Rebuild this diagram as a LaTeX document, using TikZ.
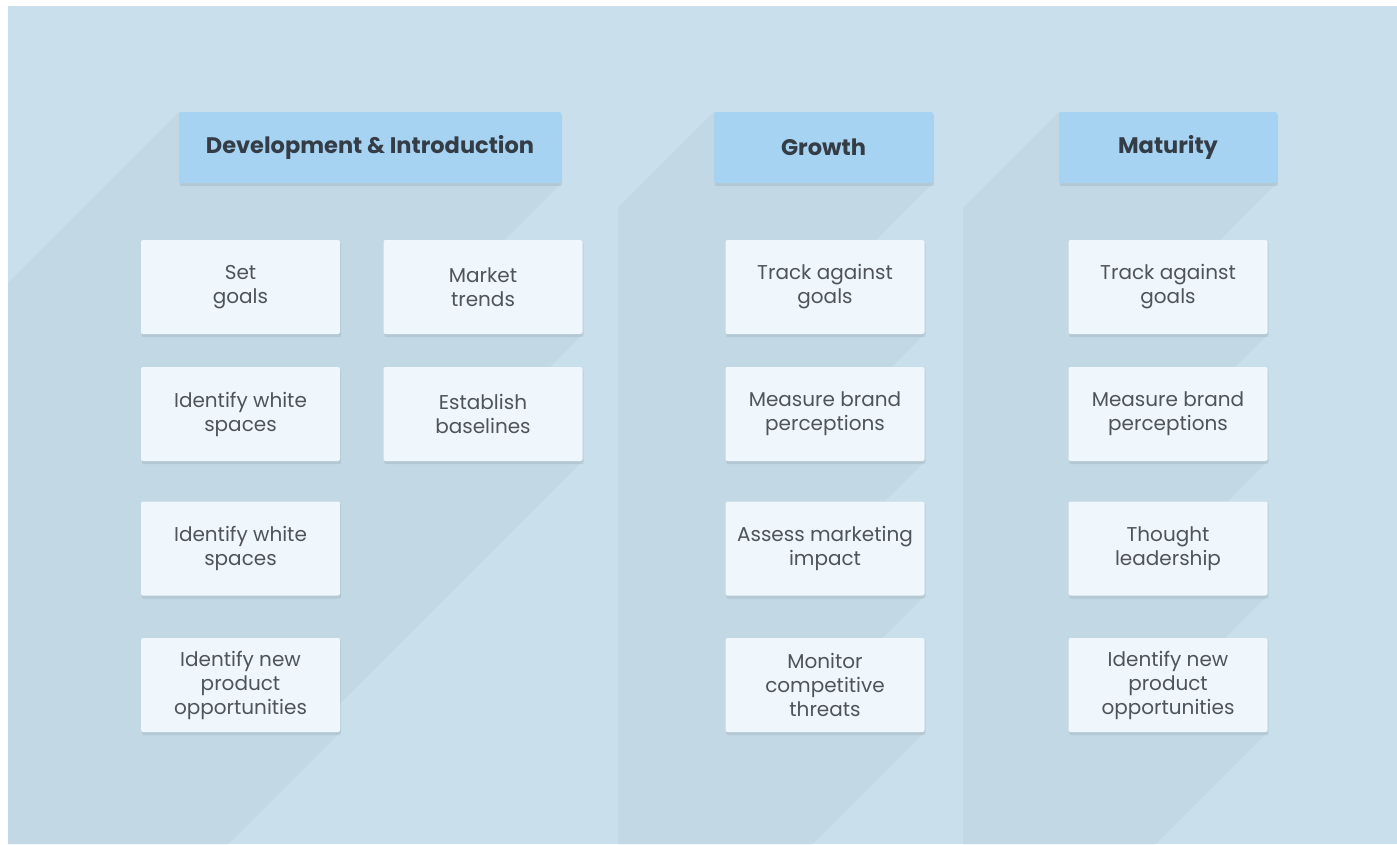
\documentclass[tikz,border=0pt]{standalone}
\usepackage{fontspec}
\setmainfont{Poppins}
\definecolor{panelbg}{RGB}{201,224,236}
\definecolor{headfill}{RGB}{167,211,242}
\definecolor{itemfill}{RGB}{239,246,252}
\definecolor{headtext}{RGB}{52,60,70}
\definecolor{itemtext}{RGB}{80,84,90}
\pgfdeclarelayer{bg}
\pgfdeclarelayer{shad}
\pgfsetlayers{bg,shad,main}
\tikzset{
  headbox/.style={fill=headfill, rounded corners=2pt, minimum height=71pt, text=headtext,
    font=\fontsize{22.5}{26}\selectfont\bfseries, inner sep=0pt},
  itembox/.style={fill=itemfill, rounded corners=2pt, minimum width=199pt, minimum height=94pt,
    text=itemtext, font=\fontsize{20}{24}\selectfont, align=center, inner sep=0pt},
  longshadow/.style={fill=black},
  dropshadow/.style={fill=black, fill opacity=0.07, rounded corners=2pt}
}
\newcommand{\lshadow}[1]{%
  \fill[longshadow] (#1.north west) -- (#1.north east) -- (#1.south east)
    -- ([shift={(-300,300)}]#1.south east) -- ([shift={(-300,300)}]#1.south west)
    -- ([shift={(-300,300)}]#1.north west) -- cycle;}
\newcommand{\dshadow}[1]{%
  \fill[dropshadow] ([shift={(1,2)}]#1.north west) rectangle ([shift={(1,3)}]#1.south east);}
\begin{document}
\begin{tikzpicture}[x=1pt,y=-1pt]
\useasboundingbox (0,0) rectangle (1397,844);
% headers
\node[headbox, minimum width=382pt] (h1) at (370,147.5) {Development \& Introduction};
\node[headbox, minimum width=219pt] (h2) at (823.5,147.5) {Growth};
\node[headbox, minimum width=218pt] (h3) at (1168,147.5) {Maturity};
% column 1
\node[itembox] (a1) at (240.5,287) {Set\\goals};
\node[itembox] (a2) at (240.5,414) {Identify white\\spaces};
\node[itembox] (a3) at (240.5,548.5) {Identify white\\spaces};
\node[itembox] (a4) at (240.5,685) {Identify new\\product\\opportunities};
\node[itembox] (b1) at (483,287) {Market\\trends};
\node[itembox] (b2) at (483,414) {Establish\\baselines};
% growth
\node[itembox] (g1) at (825,287) {Track against\\goals};
\node[itembox] (g2) at (825,414) {Measure brand\\perceptions};
\node[itembox] (g3) at (825,548.5) {Assess marketing\\impact};
\node[itembox] (g4) at (825,685) {Monitor\\competitive\\threats};
% maturity
\node[itembox] (m1) at (1168,287) {Track against\\goals};
\node[itembox] (m2) at (1168,414) {Measure brand\\perceptions};
\node[itembox] (m3) at (1168,548.5) {Thought\\leadership};
\node[itembox] (m4) at (1168,685) {Identify new\\product\\opportunities};
\begin{pgfonlayer}{bg}
  \fill[panelbg] (8,6) rectangle (1397,844);
\end{pgfonlayer}
\begin{pgfonlayer}{shad}
  \begin{scope}[transparency group, opacity=0.03]
    \clip (8,6) rectangle (618,844);
    \foreach \n in {h1,a1,a2,a3,a4,b1,b2} {\lshadow{\n}}
  \end{scope}
  \begin{scope}[transparency group, opacity=0.03]
    \clip (618,6) rectangle (963,844);
    \foreach \n in {h2,g1,g2,g3,g4} {\lshadow{\n}}
  \end{scope}
  \begin{scope}[transparency group, opacity=0.03]
    \clip (963,6) rectangle (1397,844);
    \foreach \n in {h3,m1,m2,m3,m4} {\lshadow{\n}}
  \end{scope}
  \foreach \n in {h1,h2,h3,a1,a2,a3,a4,b1,b2,g1,g2,g3,g4,m1,m2,m3,m4} {\dshadow{\n}}
\end{pgfonlayer}
\end{tikzpicture}
\end{document}
